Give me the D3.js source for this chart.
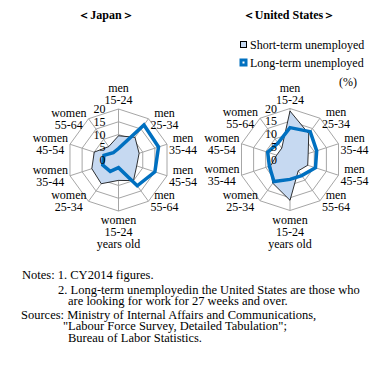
<!DOCTYPE html>
<html><head><meta charset="utf-8">
<script src="https://cdn.jsdelivr.net/npm/d3@7"></script>
<style>
body{margin:0;background:#fff}
svg{display:block}
</style>
</head><body><svg width="389" height="369" font-family="'Liberation Serif', 'Times New Roman', 'DejaVu Serif', serif" font-size="12"></svg>
<script>
const categories = [
  ["men","15-24"],["men","25-34"],["men","35-44"],["men","45-54"],["men","55-64"],
  ["women","15-24","years old"],["women","25-34"],["women","35-44"],["women","45-54"],["women","55-64"]
];
const ticks = [0,5,10,15,20];
const japanShort = [9.5,11,8.5,7.5,10,8,11.5,11,10,6.5];
const japanLong  = [4.5,17,16.5,15,12.5,3,5.5,6.5,6,3.5];
const usShort    = [19,12.5,7.5,7.3,5.5,16,11.5,8,5.5,5.5];
const usLong     = [12.5,13.5,11,10.5,7.8,7.8,10.7,8.5,9.2,8];
const seriesNames = ["Short-term unemployed","Long-term unemployed"];
const titles = ["＜Japan＞","＜United States＞"];
const notes = [
  "Notes: 1. CY2014  figures.",
  "2.  Long-term unemployedin the United States are those who",
  "are looking for work for 27 weeks and over.",
  "Sources: Ministry of Internal Affairs and  Communications,",
  "\"Labour Force Survey, Detailed Tabulation\";",
  "Bureau of Labor Statistics."
];

const svg = d3.select("svg");
const R = 51;
const shortFill = "#c6d9f1", longColor = "#0070c0", gridColor = "#a6a6a6";
const n = categories.length;
const r = d3.scaleLinear().domain([0,20]).range([0,R]);
const ang = d3.scaleLinear().domain([0,n]).range([0,2*Math.PI]);

function radar(cx, cy, shortVals, longVals){
  const g = svg.append("g").attr("transform",`translate(${cx},${cy})`);
  const ring = d3.lineRadial().angle((d,i)=>ang(i)).radius(d=>r(d)).curve(d3.curveLinearClosed);
  ticks.filter(t=>t>0).forEach(t=>{
    g.append("path").attr("d",ring(d3.range(n).map(()=>t)))
      .attr("fill","none").attr("stroke",gridColor).attr("stroke-width",1);
  });
  d3.range(n).forEach(i=>{
    const a = ang(i);
    g.append("line").attr("x1",0).attr("y1",0)
      .attr("x2",r(20)*Math.sin(a)).attr("y2",-r(20)*Math.cos(a))
      .attr("stroke",gridColor).attr("stroke-width",1);
  });
  g.append("path").attr("d",ring(shortVals))
    .attr("fill",shortFill).attr("stroke","#000").attr("stroke-width",0.8);
  g.append("path").attr("d",ring(longVals))
    .attr("fill","none").attr("stroke",longColor).attr("stroke-width",3.5)
    .attr("stroke-linejoin","miter");
  ticks.forEach(t=>{
    g.append("text").attr("x",-13).attr("y",-r(t)).attr("text-anchor","end")
      .attr("dominant-baseline","central").text(t);
  });
  categories.forEach((lines,i)=>{
    const a = ang(i), s = Math.sin(a), c = Math.cos(a);
    const vx = r(20)*s, vy = -r(20)*c;
    const t = g.append("text").attr("text-anchor","middle");
    lines.forEach(l=>t.append("tspan").text(l));
    const w = d3.max(t.selectAll("tspan").nodes(), nd=>nd.getComputedTextLength());
    const lh = 12, h = lines.length*lh;
    let x, top;
    if (Math.abs(s) < 0.01){
      x = 0;
      top = c > 0 ? vy - 3 - h : vy + 3;
    } else {
      x = vx + Math.sign(s)*(2 + w/2);
      top = vy - h/2;
    }
    t.selectAll("tspan").attr("x",x).attr("y",(d,k)=>top + lh/2 + k*lh)
      .attr("dominant-baseline","central");
  });
}

radar(118.5,160,japanShort,japanLong);
radar(290,159.5,usShort,usLong);

svg.append("text").attr("x",106).attr("y",15).attr("text-anchor","middle")
  .attr("dominant-baseline","central").attr("font-weight","bold").text(titles[0]);
svg.append("text").attr("x",289).attr("y",15).attr("text-anchor","middle")
  .attr("dominant-baseline","central").attr("font-weight","bold").text(titles[1]);

const lg = svg.append("g");
lg.append("rect").attr("x",240.5).attr("y",41.5).attr("width",6).attr("height",6)
  .attr("fill",shortFill).attr("stroke","#000").attr("stroke-width",1);
lg.append("text").attr("x",250).attr("y",44.5).attr("dominant-baseline","central").text(seriesNames[0]);
lg.append("rect").attr("x",239.5).attr("y",58.5).attr("width",8).attr("height",8)
  .attr("fill",longColor);
lg.append("rect").attr("x",242.5).attr("y",61.5).attr("width",2).attr("height",2)
  .attr("fill","#fff");
lg.append("text").attr("x",250).attr("y",62.5).attr("dominant-baseline","central").text(seriesNames[1]);
svg.append("text").attr("x",357).attr("y",82).attr("text-anchor","end")
  .attr("dominant-baseline","central").text("(%)");

const noteX = [22,58,68,21,63,68];
const noteY = [275,289.5,301,315,326,337.5];
notes.forEach((s,i)=>{
  svg.append("text").attr("x",noteX[i]).attr("y",noteY[i]).attr("font-size",12.5)
    .attr("dominant-baseline","central").text(s);
});
</script></body></html>
